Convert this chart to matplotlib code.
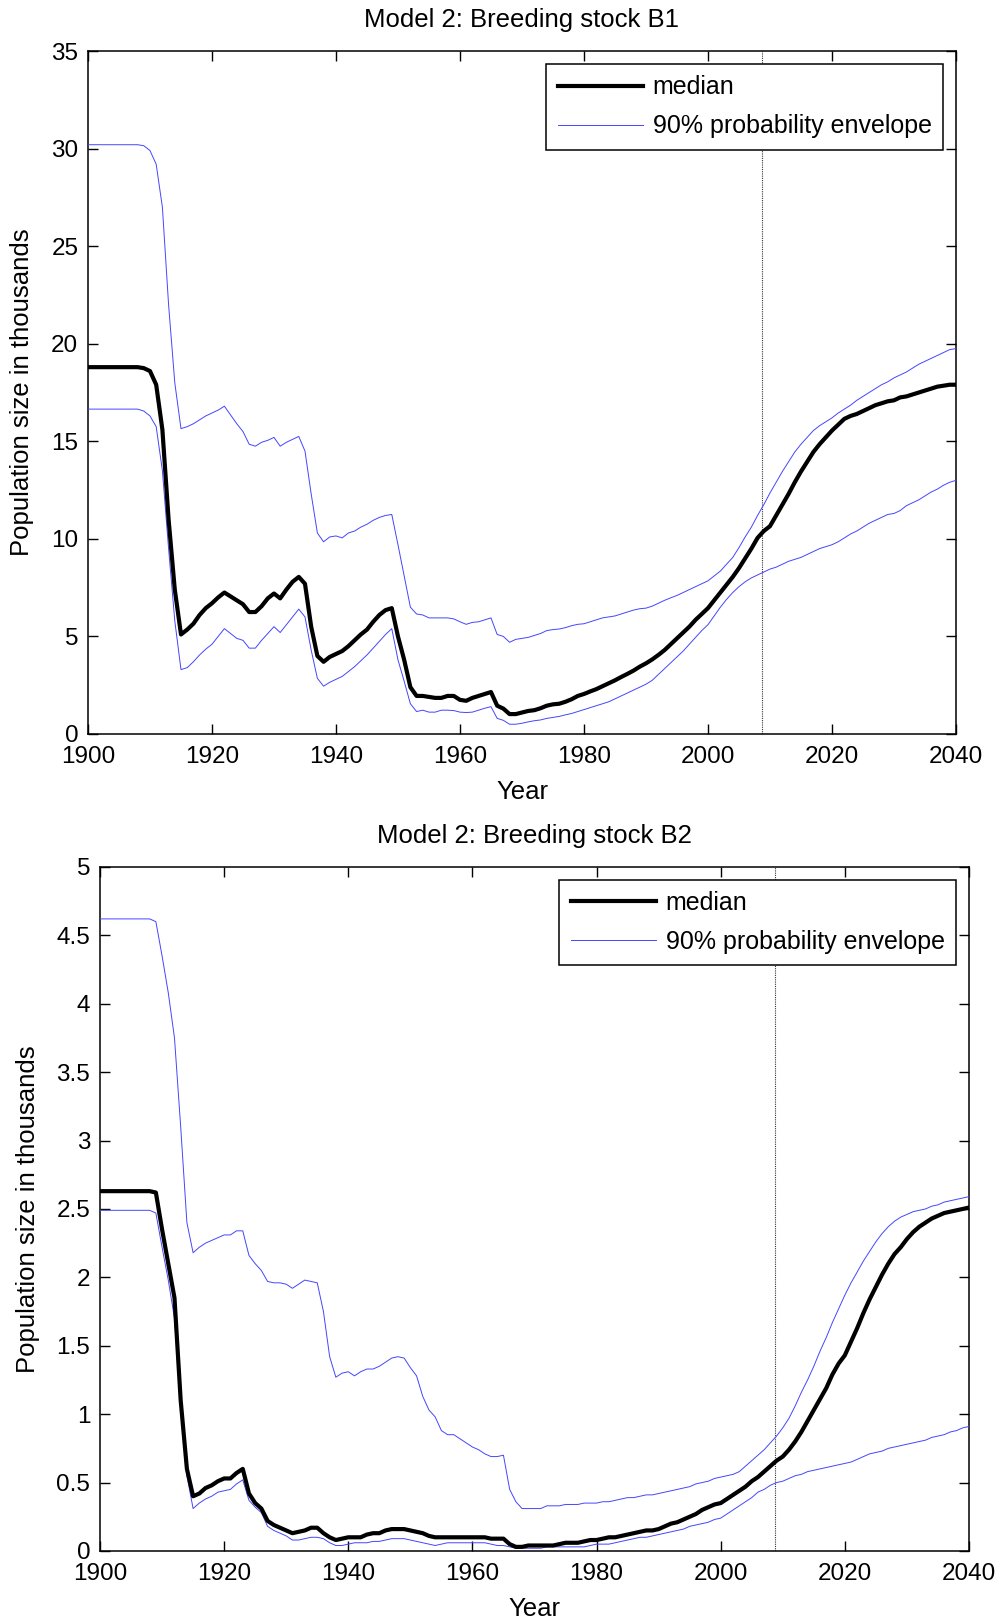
import matplotlib
matplotlib.use('Agg')
import matplotlib.pyplot as plt
import numpy as np

plt.rcParams['font.family'] = ['Liberation Sans', 'DejaVu Sans']

years = np.arange(1900, 2041)
now_year = 2008.7

# Breeding stock B1 (thousands)
b1_median = [18.8] * 9 + [
    18.75, 18.6, 17.9, 15.6, 11.0, 7.4, 5.1, 5.35, 5.65, 6.1, 6.45,
    6.7, 7.0, 7.25, 7.05, 6.85, 6.65, 6.25, 6.25, 6.55, 6.95,
    7.2, 6.95, 7.4, 7.8, 8.05, 7.7, 5.5, 4.0, 3.7, 3.95,
    4.1, 4.25, 4.5, 4.8, 5.1, 5.35, 5.75, 6.1, 6.35, 6.45,
    5.0, 3.8, 2.4, 1.95, 1.95, 1.9, 1.85, 1.85, 1.95, 1.95,
    1.75, 1.7, 1.85, 1.95, 2.05, 2.15, 1.45, 1.3, 1.02, 1.02,
    1.1, 1.18, 1.22, 1.32, 1.45, 1.52, 1.55, 1.65, 1.78, 1.95,
    2.05, 2.18, 2.3, 2.45, 2.6, 2.75, 2.92, 3.08, 3.25, 3.45,
    3.62, 3.82, 4.05, 4.3, 4.6, 4.9, 5.2, 5.5, 5.85, 6.15,
    6.45, 6.85, 7.25, 7.65, 8.05, 8.5, 9.0, 9.5, 10.05, 10.4,
    10.65, 11.2, 11.75, 12.3, 12.9, 13.45, 13.95, 14.45, 14.85, 15.2,
    15.55, 15.85, 16.15, 16.3, 16.4, 16.55, 16.7, 16.85, 16.95, 17.05,
    17.1, 17.25, 17.3, 17.4, 17.5, 17.6, 17.7, 17.8, 17.85, 17.9,
    17.9]
b1_upper = [30.2] * 9 + [
    30.15, 29.9, 29.2, 27.0, 22.0, 18.0, 15.65, 15.75, 15.9, 16.1, 16.3,
    16.45, 16.6, 16.8, 16.35, 15.9, 15.5, 14.85, 14.75, 14.95, 15.05,
    15.2, 14.75, 14.95, 15.1, 15.25, 14.5, 12.3, 10.3, 9.85, 10.1,
    10.15, 10.05, 10.3, 10.4, 10.6, 10.75, 10.95, 11.1, 11.2, 11.25,
    9.7, 8.1, 6.5, 6.15, 6.1, 5.95, 5.95, 5.95, 5.95, 5.9,
    5.75, 5.62, 5.72, 5.75, 5.85, 5.95, 5.1, 5.0, 4.7, 4.85,
    4.9, 4.95, 5.05, 5.15, 5.3, 5.35, 5.38, 5.45, 5.55, 5.62,
    5.65, 5.75, 5.85, 5.95, 6.0, 6.05, 6.15, 6.25, 6.35, 6.42,
    6.45, 6.55, 6.7, 6.85, 6.98, 7.1, 7.25, 7.4, 7.55, 7.7,
    7.85, 8.1, 8.35, 8.7, 9.05, 9.55, 10.1, 10.6, 11.2, 11.75,
    12.35, 12.9, 13.45, 13.95, 14.45, 14.85, 15.2, 15.55, 15.8, 16.0,
    16.2, 16.45, 16.65, 16.85, 17.1, 17.3, 17.5, 17.7, 17.9, 18.05,
    18.25, 18.4, 18.55, 18.75, 18.95, 19.1, 19.25, 19.4, 19.55, 19.7,
    19.75]
b1_lower = [16.65] * 9 + [
    16.55, 16.3, 15.75, 13.5, 9.5, 5.8, 3.3, 3.4, 3.7, 4.05, 4.35,
    4.6, 5.0, 5.4, 5.15, 4.9, 4.8, 4.4, 4.4, 4.8, 5.15,
    5.5, 5.2, 5.6, 6.0, 6.4, 6.0, 4.3, 2.85, 2.45, 2.65,
    2.8, 2.95, 3.2, 3.45, 3.75, 4.05, 4.4, 4.75, 5.1, 5.4,
    3.8, 2.7, 1.55, 1.15, 1.22, 1.12, 1.12, 1.22, 1.22, 1.2,
    1.12, 1.1, 1.12, 1.22, 1.32, 1.4, 0.8, 0.7, 0.5, 0.5,
    0.55, 0.62, 0.68, 0.72, 0.8, 0.85, 0.9, 0.98, 1.05, 1.15,
    1.25, 1.35, 1.45, 1.55, 1.65, 1.8, 1.95, 2.1, 2.25, 2.4,
    2.55, 2.75, 3.05, 3.35, 3.65, 3.95, 4.25, 4.6, 4.95, 5.3,
    5.6, 6.05, 6.5, 6.9, 7.25, 7.55, 7.8, 8.0, 8.15, 8.3,
    8.45, 8.55, 8.7, 8.85, 8.95, 9.05, 9.2, 9.35, 9.5, 9.6,
    9.7, 9.85, 10.05, 10.25, 10.4, 10.6, 10.8, 10.95, 11.1, 11.25,
    11.3, 11.45, 11.7, 11.85, 12.0, 12.2, 12.4, 12.55, 12.75, 12.9,
    13.0]

# Breeding stock B2 (thousands)
b2_median = [2.63] * 9 + [
    2.62, 2.35, 2.1, 1.85, 1.1, 0.6, 0.4, 0.42, 0.46, 0.48, 0.51,
    0.53, 0.53, 0.57, 0.6, 0.42, 0.35, 0.31, 0.22, 0.19, 0.17,
    0.15, 0.13, 0.14, 0.15, 0.17, 0.17, 0.13, 0.1, 0.08, 0.09,
    0.1, 0.1, 0.1, 0.12, 0.13, 0.13, 0.15, 0.16, 0.16, 0.16,
    0.15, 0.14, 0.13, 0.11, 0.1, 0.1, 0.1, 0.1, 0.1, 0.1,
    0.1, 0.1, 0.1, 0.09, 0.09, 0.09, 0.05, 0.03, 0.03, 0.04,
    0.04, 0.04, 0.04, 0.04, 0.05, 0.06, 0.06, 0.06, 0.07, 0.08,
    0.08, 0.09, 0.1, 0.1, 0.11, 0.12, 0.13, 0.14, 0.15, 0.15,
    0.16, 0.18, 0.2, 0.21, 0.23, 0.25, 0.27, 0.3, 0.32, 0.34,
    0.35, 0.38, 0.41, 0.44, 0.47, 0.51, 0.54, 0.58, 0.62, 0.66,
    0.69, 0.74, 0.8, 0.87, 0.95, 1.03, 1.11, 1.19, 1.29, 1.37,
    1.43, 1.53, 1.63, 1.74, 1.84, 1.93, 2.02, 2.1, 2.17, 2.22,
    2.28, 2.33, 2.37, 2.4, 2.43, 2.45, 2.47, 2.48, 2.49, 2.5,
    2.51]
b2_upper = [4.62] * 9 + [
    4.6, 4.35, 4.08, 3.75, 3.1, 2.4, 2.18, 2.22, 2.25, 2.27, 2.29,
    2.31, 2.31, 2.34, 2.34, 2.16, 2.1, 2.05, 1.97, 1.96, 1.96,
    1.95, 1.92, 1.95, 1.98, 1.97, 1.96, 1.75, 1.42, 1.27, 1.3,
    1.31, 1.28, 1.31, 1.33, 1.33, 1.35, 1.38, 1.41, 1.42, 1.41,
    1.34, 1.28, 1.13, 1.03, 0.98, 0.88, 0.85, 0.85, 0.82, 0.79,
    0.76, 0.74, 0.71, 0.69, 0.69, 0.7, 0.45, 0.36, 0.31, 0.31,
    0.31, 0.31, 0.33, 0.33, 0.33, 0.34, 0.34, 0.34, 0.35, 0.35,
    0.35, 0.36, 0.36, 0.37, 0.38, 0.39, 0.39, 0.4, 0.41, 0.41,
    0.42, 0.43, 0.44, 0.45, 0.46, 0.47, 0.49, 0.5, 0.51, 0.53,
    0.54, 0.55, 0.56, 0.58, 0.62, 0.66, 0.7, 0.74, 0.79, 0.84,
    0.9, 0.97, 1.06, 1.16, 1.25, 1.35, 1.46, 1.56, 1.67, 1.77,
    1.87, 1.96, 2.04, 2.12, 2.19, 2.26, 2.32, 2.37, 2.41, 2.44,
    2.46, 2.48, 2.49, 2.5, 2.52, 2.53, 2.55, 2.56, 2.57, 2.58,
    2.59]
b2_lower = [2.49] * 9 + [
    2.47, 2.22, 1.98, 1.7, 1.05, 0.55, 0.31, 0.35, 0.38, 0.4, 0.43,
    0.44, 0.45, 0.49, 0.52, 0.37, 0.32, 0.28, 0.18, 0.15, 0.13,
    0.11, 0.08, 0.08, 0.09, 0.1, 0.1, 0.09, 0.06, 0.04, 0.04,
    0.05, 0.06, 0.06, 0.06, 0.07, 0.07, 0.08, 0.09, 0.09, 0.09,
    0.08, 0.07, 0.06, 0.05, 0.04, 0.05, 0.06, 0.06, 0.06, 0.06,
    0.06, 0.06, 0.06, 0.05, 0.04, 0.04, 0.03, 0.02, 0.02, 0.02,
    0.02, 0.02, 0.03, 0.03, 0.03, 0.03, 0.03, 0.03, 0.03, 0.04,
    0.05, 0.05, 0.05, 0.06, 0.07, 0.08, 0.09, 0.1, 0.1, 0.11,
    0.12, 0.13, 0.14, 0.15, 0.16, 0.18, 0.19, 0.2, 0.21, 0.23,
    0.24, 0.27, 0.3, 0.33, 0.36, 0.39, 0.43, 0.45, 0.48, 0.5,
    0.51, 0.53, 0.55, 0.56, 0.58, 0.59, 0.6, 0.61, 0.62, 0.63,
    0.64, 0.65, 0.67, 0.69, 0.71, 0.72, 0.73, 0.75, 0.76, 0.77,
    0.78, 0.79, 0.8, 0.81, 0.83, 0.84, 0.85, 0.87, 0.88, 0.9,
    0.91]

panels = [
    ('Model 2: Breeding stock B1', b1_median, b1_upper, b1_lower,
     35, np.arange(0, 36, 5), ['0', '5', '10', '15', '20', '25', '30', '35'],
     [0.0879, 0.5472, 0.8671, 0.4213]),
    ('Model 2: Breeding stock B2', b2_median, b2_upper, b2_lower,
     5, np.arange(0, 5.01, 0.5),
     ['0', '0.5', '1', '1.5', '2', '2.5', '3', '3.5', '4', '4.5', '5'],
     [0.0999, 0.0432, 0.8681, 0.4220]),
]

fig = plt.figure(figsize=(10.01, 16.21), dpi=100)

for title, med, up, lo, ymax, yticks, ylabels, rect in panels:
    ax = fig.add_axes(rect)
    ax.plot(years, med, color='black', lw=3, label='median', zorder=4)
    ax.plot(years, up, color='#4545ff', lw=0.7, label='90% probability envelope', zorder=3)
    ax.plot(years, lo, color='#4545ff', lw=0.7, zorder=3)
    ax.axvline(now_year, color='#333333', lw=0.8, ls=(0, (1, 1)), zorder=2)

    ax.set_xlim(1900, 2040)
    ax.set_ylim(0, ymax)
    ax.set_xticks(np.arange(1900, 2041, 20))
    ax.set_yticks(yticks)
    ax.set_yticklabels(ylabels)
    ax.tick_params(direction='in', top=True, right=True, length=7, width=1,
                   labelsize=17.5, pad=7)
    ax.tick_params(axis='x', pad=9)
    for s in ax.spines.values():
        s.set_linewidth(1.1)

    ax.set_title(title, fontsize=18.5, pad=17)
    ax.set_xlabel('Year', fontsize=18.5, labelpad=8)
    ax.set_ylabel('Population size in thousands', fontsize=18.5, labelpad=12)

    leg = ax.legend(loc='upper right', bbox_to_anchor=(0.985, 0.981),
                    borderaxespad=0, fontsize=18, handlelength=3.4,
                    handletextpad=0.4, labelspacing=0.6, borderpad=0.45,
                    fancybox=False, framealpha=1, edgecolor='black')
    leg.get_frame().set_linewidth(1.1)

fig.savefig('out.png', dpi=100)
